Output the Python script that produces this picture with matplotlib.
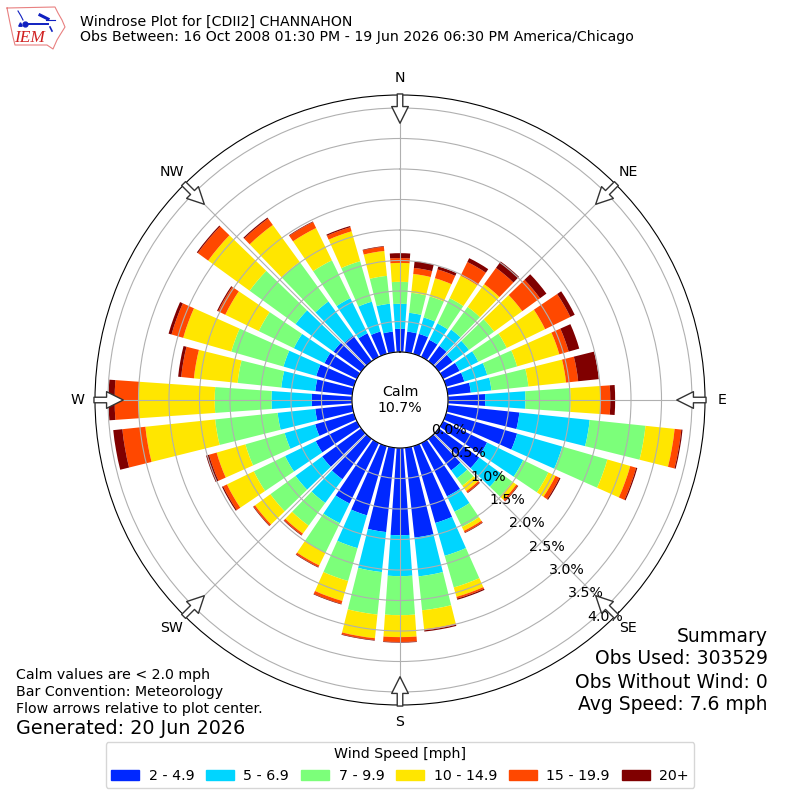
import numpy as np
import matplotlib
matplotlib.use("Agg")
import matplotlib.pyplot as plt
from matplotlib.patches import Patch

# percent of obs per 10 degree direction, N then clockwise
directions = np.arange(0, 360, 10)
speed_2_5 = [.38, .34, .34, .31, .31, .28, .30, .31, .38, .61, 1.18, 1.21,
             .80, .82, .64, .97, 1.31, 1.48, 1.43, 1.39, 1.18, 1.10, .82, .79,
             .75, .66, .61, .66, .61, .64, .59, .56, .52, .43, .38, .34]
speed_5_7 = [.41, .31, .28, .30, .33, .33, .34, .39, .34, .66, 1.16, .77,
             .66, .44, .16, .28, .56, .64, .67, .66, .56, .36, .48, .54,
             .56, .52, .62, .66, .56, .56, .56, .77, .69, .64, .51, .46]
speed_7_10 = [.36, .33, .36, .46, .46, .51, .52, .51, .61, .74, .92, .77,
              .46, .23, .15, .28, .54, .56, .64, .70, .56, .54, .46, .51,
              .57, .67, 1.03, .93, .72, .89, .64, .93, .80, .69, .69, .46]
speed_10_15 = [.31, .31, .31, .41, .46, .57, .70, .72, .62, .49, .48, .39,
               .13, .08, .11, .07, .16, .31, .36, .39, .34, .23, .16, .31,
               .49, .49, 1.15, 1.25, .72, .82, .61, .84, .75, .59, .51, .41]
speed_15_20 = [.08, .10, .15, .25, .33, .36, .46, .16, .20, .16, .11, .10,
               .07, .03, .03, .03, .03, .02, .08, .03, .05, .03, .03, .03,
               .07, .13, .38, .39, .21, .20, .13, .21, .13, .11, .07, .07]
speed_20 = [.08, .11, .05, .07, .13, .13, .08, .18, .34, .08, .02, .02,
            .02, .01, .01, .01, .02, .02, .01, .01, .01, .01, .01, .01,
            .02, .05, .15, .10, .05, .05, .02, .02, .02, .01, .02, .01]
series = [speed_2_5, speed_5_7, speed_7_10, speed_10_15, speed_15_20, speed_20]
bin_labels = ["2 - 4.9", "5 - 6.9", "7 - 9.9", "10 - 14.9", "15 - 19.9", "20+"]
colors = ["#0028ff", "#00d5ff", "#7cff7a", "#ffe600", "#ff4800", "#800000"]
rticks = [0, .5, 1, 1.5, 2, 2.5, 3, 3.5, 4]
rlabels = ["0.0%", "0.5%", "1.0%", "1.5%", "2.0%", "2.5%", "3.0%", "3.5%", "4.0%"]

plt.rcParams["font.size"] = 10.15

fig = plt.figure(figsize=(8, 8), dpi=100)
ax = fig.add_axes([95 / 800, 95 / 800, 610 / 800, 610 / 800], projection="polar")
ax.set_theta_zero_location("N")
ax.set_theta_direction(-1)

theta = np.radians(directions)
bottom = np.zeros(len(directions))
for vals, color in zip(series, colors):
    ax.bar(theta, vals, width=np.radians(8), bottom=bottom, color=color)
    bottom = bottom + np.array(vals)

ax.set_ylim(0, 4.213)
ax.set_rorigin(-0.787)
ax.set_rticks(rticks)
ax.set_yticklabels(rlabels)
ax.set_rlabel_position(140)
ax.set_thetagrids(np.arange(0, 360, 45), ["N", "NE", "E", "SE", "S", "SW", "W", "NW"])
ax.tick_params(axis="x", pad=2)
ax.grid(True)

# flow arrows
for deg in np.arange(0, 360, 45):
    ax.annotate("", xy=(np.radians(deg), 3.75), xytext=(np.radians(deg), 4.23),
                arrowprops=dict(facecolor="white", edgecolor="#333333", width=4,
                                headwidth=12, headlength=12, linewidth=1),
                annotation_clip=False, zorder=5)

ax.text(0.5, 0.5, "Calm\n10.7%", transform=ax.transAxes, ha="center", va="center",
        fontsize=10.15)

fig.text(80 / 800, 1 - 22 / 800, "Windrose Plot for [CDII2] CHANNAHON", fontsize=10.15, va="center")
fig.text(80 / 800, 1 - 37 / 800,
         "Obs Between: 16 Oct 2008 01:30 PM - 19 Jun 2026 06:30 PM America/Chicago",
         fontsize=10.15, va="center")

for y, line in zip([675, 692, 709], ["Calm values are < 2.0 mph", "Bar Convention: Meteorology",
                                     "Flow arrows relative to plot center."]):
    fig.text(16 / 800, 1 - y / 800, line, fontsize=10.15, va="center")
fig.text(16 / 800, 1 - 729 / 800, "Generated: 20 Jun 2026", fontsize=13.75, va="center")

for y, line in zip([636, 659, 682, 705], ["Summary", "Obs Used: 303529", "Obs Without Wind: 0",
                                          "Avg Speed: 7.6 mph"]):
    fig.text(768 / 800, 1 - y / 800, line, fontsize=13.5, ha="right", va="center")

handles = [Patch(color=c) for c in colors]
fig.legend(handles, bin_labels, ncol=6, title="Wind Speed [mph]", fontsize=10.15, title_fontsize=10.15,
           loc="center", bbox_to_anchor=(0.5, 1 - 765 / 800), columnspacing=0.85, handletextpad=0.65)

# logo, in pixel coords of the figure
logo = fig.add_axes([0, 740 / 800, 70 / 800, 60 / 800])
logo.set_xlim(0, 70)
logo.set_ylim(60, 0)
logo.axis("off")
outline_x = [7, 55, 58, 62, 65, 60, 57, 53, 47, 15, 13, 10, 7]
outline_y = [8, 7, 13, 20, 27, 35, 40, 49, 45, 45, 37, 23, 8]
logo.plot(outline_x, outline_y, color="#e88080", lw=0.8)
logo.plot([25, 48], [23.5, 23.5], color="#1020c0", lw=1.4)
logo.plot([25], [23.5], "o", color="#1020c0", ms=3.5)
logo.plot([40, 48], [15, 19], color="#1020c0", lw=2.2)
logo.plot([46, 55], [20, 20], color="#1020c0", lw=0.8)
logo.plot([18, 21, 23], [11, 16, 20], color="#1020c0", lw=0.8)
logo.plot([20], [24], "^", color="#1020c0", ms=2.5)
logo.plot([50, 52], [27, 31], color="#1020c0", lw=1.2)
logo.text(30, 38, "IEM", color="#d02020", fontsize=12.5, family="Liberation Serif", style="italic",
          ha="center", va="center")

fig.savefig("out.png", dpi=100)
